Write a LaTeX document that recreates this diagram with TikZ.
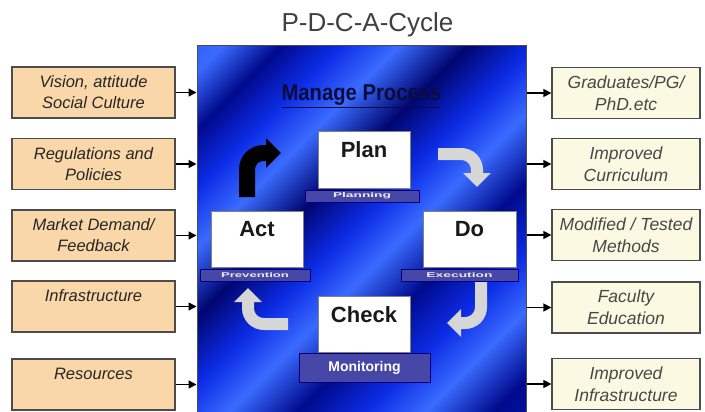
\documentclass[tikz,border=0pt]{standalone}
\usepackage{fontspec}
\setmainfont{Liberation Sans}
\usetikzlibrary{arrows.meta}
\definecolor{bdark}{HTML}{000A8C}
\definecolor{bmid}{HTML}{0C2CE6}
\definecolor{bbright}{HTML}{3A6BFF}
\definecolor{bdeep}{HTML}{000670}
\definecolor{peach}{HTML}{F9D7A8}
\definecolor{cream}{HTML}{FCF9E2}
\definecolor{barblue}{HTML}{4747A8}
\definecolor{navytext}{HTML}{0C0C3C}
\pgfdeclarehorizontalshading{bluestreak}{100bp}{color(0bp)=(bmid);color(17bp)=(bbright);color(23bp)=(bdark);color(29bp)=(bmid);color(35bp)=(bbright);color(42bp)=(bdeep);color(49bp)=(bmid);color(55bp)=(bbright);color(62bp)=(bdark);color(69bp)=(bmid);color(75bp)=(bbright);color(82bp)=(bdark);color(100bp)=(bmid)}
\tikzset{
  inbox/.style={draw=black!70, line width=1.3pt, fill=peach, minimum width=163pt, minimum height=51pt, inner sep=0pt,
    font=\fontsize{16.5}{21}\selectfont\itshape, text=black!85, align=center},
  outbox/.style={draw=black!70, line width=1.3pt, fill=cream, minimum width=148pt, minimum height=51pt, inner sep=0pt,
    font=\fontsize{17.5}{22}\selectfont\itshape, text=black!72, align=center},
  conn/.style={line width=1.5pt, draw=black, -{Triangle[length=8pt,width=8pt]}},
  wbox/.style={draw=black!50, line width=1pt, fill=white, minimum width=92pt, minimum height=56pt, inner sep=0pt},
  wtext/.style={font=\fontsize{22}{24}\selectfont\bfseries, text=black!90, anchor=base, inner sep=0pt},
  bar/.style={draw=black!50!blue, line width=0.8pt, fill=barblue, minimum height=12pt, inner sep=0pt, text=white!85!gray},
  garrow/.style={line width=12pt, draw=gray!32, -{Triangle[length=14pt,width=27pt]}},
  barrow/.style={line width=16pt, draw=black, -{Triangle[length=15pt,width=29pt]}}
}
\begin{document}
\begin{tikzpicture}[x=1pt,y=-1pt]
\useasboundingbox (0,0) rectangle (705,412);
\fill[white] (0,0) rectangle (705,412);
% title
\node[font=\fontsize{26}{28}\selectfont, text=black!75, anchor=base, inner sep=0pt] (title) at (367.5,32) {P-D-C-A-Cycle};
% central box
\node[draw=black!70, line width=1pt, shading=bluestreak, shading angle=-45, minimum width=329pt, minimum height=368pt, inner sep=0pt] (mp) at (361.5,230) {};
\node[font=\fontsize{23}{25}\selectfont\bfseries, text=navytext, anchor=base, inner sep=0pt] (mptitle) at (361.5,101) {\scalebox{0.88}[1]{\underline{Manage Process}}};
% left boxes
\node[inbox] (l1) at (93.5,92.5) {Vision, attitude\\Social Culture};
\node[inbox] (l2) at (93.5,164) {Regulations and\\Policies};
\node[inbox] (l3) at (93.5,235.5) {Market Demand/\\Feedback};
\node[inbox] (l4) at (93.5,306.5) {Infrastructure\\\mbox{}};
\node[inbox] (l5) at (93.5,384.5) {Resources\\\mbox{}};
% right boxes
\node[outbox] (r1) at (626,93) {Graduates/PG/\\PhD.etc};
\node[outbox] (r2) at (626,164) {Improved\\Curriculum};
\node[outbox] (r3) at (626,235) {Modified / Tested\\Methods};
\node[outbox] (r4) at (626,307.5) {Faculty\\Education};
\node[outbox] (r5) at (626,384) {Improved\\Infrastructure};
% connectors
\foreach \n in {l1,l2,l3,l4,l5} { \draw[conn] (\n.east) -- (\n.east -| mp.west); }
\foreach \n in {r1,r2,r3,r4,r5} { \draw[conn] (\n.west -| mp.east) -- (\n.west); }
% inner boxes
\node[wbox] (plan) at (364,160) {};
\node[wtext] (plantx) at ([yshift=-26pt]plan.north) {Plan};
\node[bar, minimum width=114pt] (planbar) at (362,196) {\resizebox{58pt}{5pt}{\bfseries Planning}};
\node[wbox] (act) at (257,239) {};
\node[wtext] (acttx) at ([yshift=-26pt]act.north) {Act};
\node[bar, minimum width=110pt] (actbar) at (255,275) {\resizebox{68pt}{5pt}{\bfseries Prevention}};
\node[wbox, minimum width=93pt] (do) at (469.5,239) {};
\node[wtext] (dotx) at ([yshift=-26pt]do.north) {Do};
\node[bar, minimum width=117pt] (dobar) at (459.5,275) {\resizebox{66pt}{5pt}{\bfseries Execution}};
\node[wbox] (check) at (364,324) {};
\node[wtext] (checktx) at ([yshift=-27pt]check.north) {Check};
\node[bar, minimum width=131pt, minimum height=29pt, font=\fontsize{14}{16}\selectfont\bfseries, text=white] (monbar) at (364.5,367.5) {Monitoring};
% cycle arrows
\coordinate (a1s) at (438,154); \coordinate (a1e) at (477,187);
\draw[garrow] (a1s) -- (461,154) .. controls (470,154) and (477,161) .. (477,170) -- (a1e);
\coordinate (a2s) at (481,282); \coordinate (a2e) at (447,323);
\draw[garrow] (a2s) -- (481,307) .. controls (481,316) and (474,323) .. (465,323) -- (a2e);
\coordinate (a3s) at (288,324); \coordinate (a3e) at (248,288);
\draw[garrow] (a3s) -- (264,324) .. controls (255,324) and (248,317) .. (248,308) -- (a3e);
\coordinate (a4s) at (247,197); \coordinate (a4e) at (281,153);
\draw[barrow] (a4s) -- (247,170) .. controls (247,160) and (254,153) .. (264,153) -- (a4e);
\end{tikzpicture}
\end{document}
